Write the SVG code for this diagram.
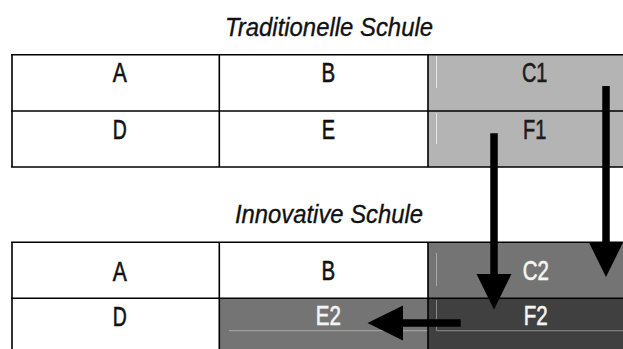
<svg xmlns="http://www.w3.org/2000/svg" width="623" height="349" viewBox="0 0 623 349">
  <style>
    .title { font-family: "Liberation Sans", Arial, sans-serif; font-style: italic; font-size: 26px; fill: #111; stroke: #111; stroke-width: 0.35; text-anchor: middle; }
    .lbl { font-family: "Liberation Sans", Arial, sans-serif; font-size: 27px; text-anchor: middle; stroke-width: 0.6; }
    .dark { fill: #111; stroke: #111; }
    .c1 { fill: #1c1c1c; stroke: #1c1c1c; }
    .light { fill: #f4f4f4; stroke: #f4f4f4; }
    .grid { stroke: #000; stroke-width: 1.6; fill: none; }
    .hl { stroke-width: 1; fill: none; }
    .conn { stroke: #000; stroke-width: 7.5; fill: none; marker-end: url(#head); }
  </style>
  <defs>
    <marker id="head" markerUnits="userSpaceOnUse" markerWidth="36" markerHeight="36" refX="1" refY="17.5" orient="auto" viewBox="0 0 36 35">
      <path d="M0,0 L35.5,17.5 L0,35 Z" fill="#000"/>
    </marker>
  </defs>
  <rect width="623" height="349" fill="#fff"/>

  <text class="title" x="329" y="35.5" textLength="208" lengthAdjust="spacingAndGlyphs">Traditionelle Schule</text>
  <text class="title" x="329" y="223" textLength="188" lengthAdjust="spacingAndGlyphs">Innovative Schule</text>

  <!-- Traditionelle Schule -->
  <g id="t-A"><text class="lbl dark" transform="translate(119.7,81.7) scale(0.78,1)">A</text></g>
  <g id="t-B"><text class="lbl dark" transform="translate(328.3,81.7) scale(0.76,1)">B</text></g>
  <g id="t-C1">
    <rect x="428" y="54.7" width="195" height="56.3" fill="#b4b4b4"/>
    <line class="hl" x1="436.5" y1="56" x2="436.5" y2="88" stroke="#e6e6e6"/>
    <text class="lbl c1" transform="translate(534.7,81.7) scale(0.74,1)">C1</text>
  </g>
  <g id="t-D"><text class="lbl dark" transform="translate(119.7,139) scale(0.72,1)">D</text></g>
  <g id="t-E"><text class="lbl dark" transform="translate(328.3,139) scale(0.74,1)">E</text></g>
  <g id="t-F1">
    <rect x="428" y="111" width="195" height="56" fill="#b4b4b4"/>
    <line class="hl" x1="436.5" y1="113" x2="436.5" y2="144" stroke="#e6e6e6"/>
    <text class="lbl c1" transform="translate(534.7,139) scale(0.74,1)">F1</text>
  </g>
  <g id="t-grid">
    <path class="grid" d="M11,54.7 H623 M11,111 H623 M11,167 H623 M12,54.7 V167 M219.3,54.7 V167 M428,54.7 V167"/>
  </g>

  <!-- Innovative Schule -->
  <g id="i-A"><text class="lbl dark" transform="translate(119.7,280.5) scale(0.78,1)">A</text></g>
  <g id="i-B"><text class="lbl dark" transform="translate(328.3,280.2) scale(0.76,1)">B</text></g>
  <g id="i-C2">
    <rect x="428" y="242.3" width="195" height="56" fill="#747474"/>
    <line class="hl" x1="436.5" y1="253" x2="436.5" y2="286" stroke="#a8a8a8"/>
    <text class="lbl light" transform="translate(535.8,280.2) scale(0.76,1)">C2</text>
  </g>
  <g id="i-D"><text class="lbl dark" transform="translate(119.7,325.5) scale(0.72,1)">D</text></g>
  <g id="i-E2">
    <rect x="219.3" y="298.3" width="208.7" height="50.7" fill="#747474"/>
    <line class="hl" x1="229" y1="330.7" x2="428" y2="330.7" stroke="#a8a8a8"/>
    <text class="lbl light" transform="translate(328.3,325.2) scale(0.76,1)">E2</text>
  </g>
  <g id="i-F2">
    <rect x="428" y="298.3" width="195" height="50.7" fill="#404040"/>
    <path class="hl" d="M436.5,300 V330.7 H623" stroke="#8a8a8a"/>
    <text class="lbl light" transform="translate(535.8,325.2) scale(0.76,1)">F2</text>
  </g>
  <g id="i-grid">
    <path class="grid" d="M11,242.3 H623 M11,298.3 H623 M12,242.3 V349 M219.3,242.3 V349 M428,242.3 V349"/>
  </g>

  <!-- connectors -->
  <g id="connectors">
    <line class="conn" x1="606" y1="86" x2="606" y2="242.5"/>
    <line class="conn" x1="494" y1="133.3" x2="494" y2="275"/>
    <line class="conn" x1="460.7" y1="323" x2="402" y2="323"/>
  </g>
</svg>
